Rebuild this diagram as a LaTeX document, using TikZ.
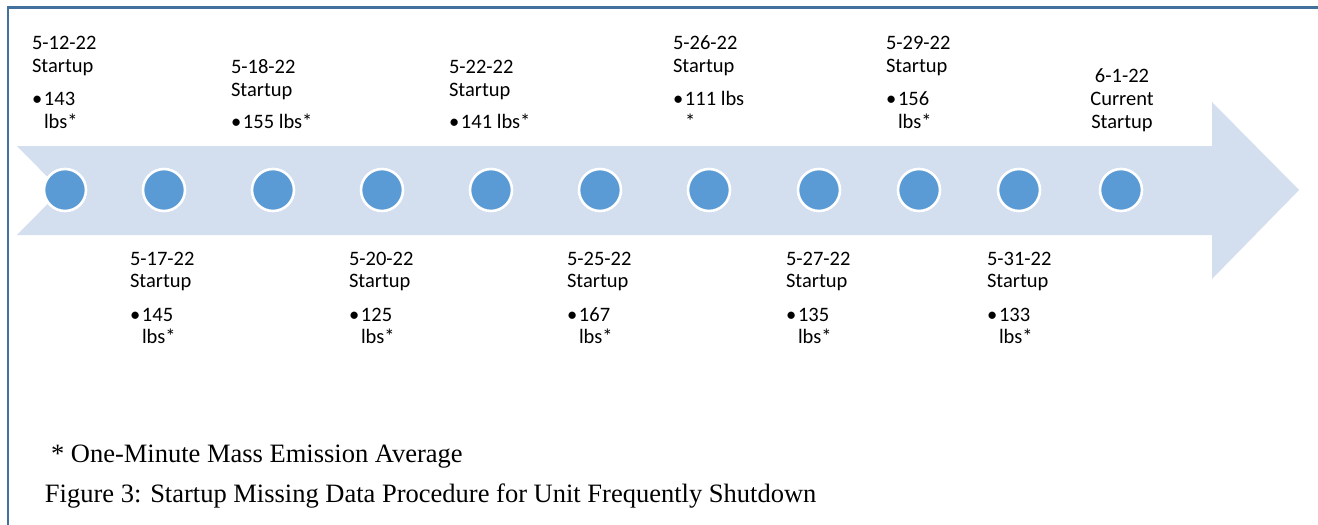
\documentclass[tikz,border=0pt]{standalone}
\usepackage{fontspec}
\setmainfont{Carlito}
\newfontfamily\timesfont{Liberation Serif}
\definecolor{frameblue}{RGB}{65,113,156}
\definecolor{bandblue}{RGB}{211,222,239}
\definecolor{dotblue}{RGB}{91,155,213}
\newcommand\bul{\makebox[12pt][l]{•}}
\begin{document}
\begin{tikzpicture}[x=1pt,y=-1pt,
  lab/.style={anchor=base west, inner sep=0pt, outer sep=0pt, font=\fontsize{20.5}{22}\selectfont},
  labc/.style={anchor=base, inner sep=0pt, outer sep=0pt, font=\fontsize{20.5}{22}\selectfont},
  captext/.style={anchor=base west, inner sep=0pt, outer sep=0pt, font=\timesfont\fontsize{26.5}{28}\selectfont},
  dotnode/.style={circle, fill=dotblue, draw=white, line width=2.6pt, minimum size=42pt, inner sep=0pt}]
\clip (0,0) rectangle (1318,525);
\fill[white] (0,0) rectangle (1318,525);
% frame
\draw[frameblue, line width=2.5pt] (8,540) -- (8,7.5) -- (1330,7.5);
% arrow band
\fill[bandblue] (17,146) -- (1212,146) -- (1212,102) -- (1299,190) -- (1212,279) -- (1212,235) -- (17,235) -- (61,190.5) -- cycle;
% dots
\foreach \x [count=\i] in {65,164,273,382,491,600,709,819,919,1019,1121}
  \node[dotnode] (c\i) at (\x,190) {};
% top labels
\node[lab] (t1a) at (32,49) {5-12-22};
\node[lab] (t1b) at (32,72) {Startup};
\node[lab] (t1c) at (32,105) {\bul 143};
\node[lab] (t1d) at (44,128) {lbs*};
\node[lab] (t2a) at (231,73) {5-18-22};
\node[lab] (t2b) at (231,96) {Startup};
\node[lab] (t2c) at (231,128) {\bul 155 lbs*};
\node[lab] (t3a) at (449,73) {5-22-22};
\node[lab] (t3b) at (449,96) {Startup};
\node[lab] (t3c) at (449,128) {\bul 141 lbs*};
\node[lab] (t4a) at (673,49) {5-26-22};
\node[lab] (t4b) at (673,72) {Startup};
\node[lab] (t4c) at (673,105) {\bul 111 lbs};
\node[lab] (t4d) at (685,128) {*};
\node[lab] (t5a) at (886,49) {5-29-22};
\node[lab] (t5b) at (886,72) {Startup};
\node[lab] (t5c) at (886,105) {\bul 156};
\node[lab] (t5d) at (898,128) {lbs*};
\node[labc] (t6a) at (1122,82) {6-1-22};
\node[labc] (t6b) at (1122,105) {Current};
\node[labc] (t6c) at (1122,128) {Startup};
% bottom labels
\foreach \x/\v [count=\i] in {130/145,349/125,567/167,786/135,987/133}{
  \node[lab] (b\i a) at (\x,265) {\ifcase\i\or 5-17-22\or 5-20-22\or 5-25-22\or 5-27-22\or 5-31-22\fi};
  \node[lab] (b\i b) at (\x,287.5) {Startup};
  \node[lab] (b\i c) at (\x,321) {\bul \v};
  \node[lab] (b\i d) at (\x+12,343.5) {lbs*};
}
% footnote and caption
\node[captext] (fn) at (51,462) {* One-Minute Mass Emission Average};
\node[captext] (caption) at (45,502) {Figure 3: Startup Missing Data Procedure for Unit Frequently Shutdown};
\end{tikzpicture}
\end{document}
